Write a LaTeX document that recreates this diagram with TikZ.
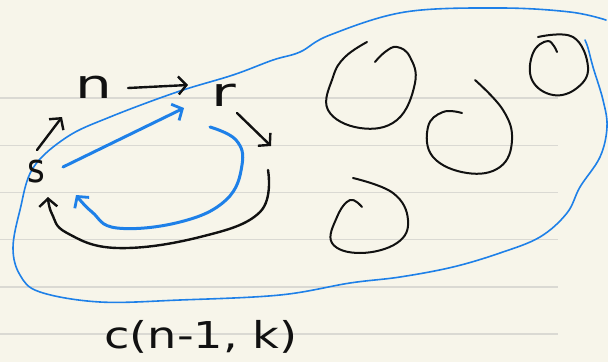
\documentclass[tikz,border=0pt]{standalone}
\usepackage{fontspec}
\setmainfont{DejaVu Sans}
\usetikzlibrary{arrows.meta}
\definecolor{paper}{HTML}{F7F5EA}
\definecolor{rulecol}{HTML}{DAD9D3}
\definecolor{ink}{HTML}{111111}
\definecolor{pen}{HTML}{1E80E8}
\tikzset{
  inkline/.style={draw=ink, line width=2.4pt, line cap=round, line join=round},
  thinink/.style={draw=ink, line width=2pt, line cap=round, line join=round},
  penline/.style={draw=pen, line width=1.6pt, line cap=round, line join=round},
  penarrow/.style={draw=pen, line width=3pt, line cap=round, line join=round},
  barb/.style={-{Straight Barb[length=8pt,width=18pt,line width=2.4pt]}},
  pbarb/.style={-{Straight Barb[length=8pt,width=18pt,line width=2.8pt]}},
  hand/.style={text=ink, inner sep=0pt, transform shape, font=\fontsize{40}{40}\selectfont},
}
\begin{document}
\begin{tikzpicture}[x=1pt,y=-1pt]
\fill[paper] (0,0) rectangle (608,362);
\useasboundingbox (0,0) rectangle (608,362);
% ruled lines
\foreach \yy in {98,145.5,192.5,239.5,287,334}
  \draw[rulecol, line width=1.3pt] (0,\yy) -- (558,\yy);

% blue outline
\draw[penline] plot[smooth, tension=0.6] coordinates {
  (606,20) (570,12) (500,8) (405,12) (330,35) (300,52) (273,60) (233,75)
  (177,92) (110,117) (67,137) (33,168) (20,210) (13,248) (20,275) (40,292)
  (100,302) (180,300) (280,295) (350,283) (400,277) (453,267) (500,253)
  (540,237) (567,213) (580,187) (600,157) (607,127) (603,100) (593,67) (588,48) (585,40)};

% letters
\node[hand, xscale=1.45] (n) at (94,87) {n};
\node[hand, xscale=1.5] (r) at (224,95) {r};
\node[hand, xscale=0.85] (s) at (36,172) {s};
\node[hand, xscale=1.25, anchor=west, font=\fontsize{37}{37}\selectfont] (lab) at (104,337) {c(n-1, k)};

% black arrows
\coordinate (na) at (128,88);
\coordinate (nb) at (188,85);
\draw[inkline, barb] (na) -- (nb);
\coordinate (sa) at (37,150);
\coordinate (sb) at (62,117);
\draw[inkline, barb] (sa) -- (sb);
\coordinate (ra) at (237,113);
\coordinate (rb) at (271,146);
\draw[inkline, barb] (ra) -- (rb);
\draw[inkline, barb] plot[smooth, tension=0.7] coordinates {
  (268,170) (260,212) (200,237) (117,248) (67,233) (52,214) (48,197)};

% blue arrows
\coordinate (sc) at (63,167);
\coordinate (rc) at (184,108);
\draw[penarrow, pbarb] (sc) -- (rc);
\draw[penarrow, pbarb] plot[smooth, tension=0.7] coordinates {
  (210,127) (236,140) (242,165) (226,200) (180,222) (117,228) (92,212) (76,195)};

% spirals
\draw[thinink] plot[smooth, tension=0.7] coordinates {
  (367,42) (345,57) (333,77) (328,110) (360,128) (397,120) (415,83) (410,57) (397,47) (385,52) (375,62)};
\draw[thinink] plot[smooth, tension=0.7] coordinates {
  (475,80) (503,110) (512,140) (500,167) (467,173) (433,157) (428,127) (443,112) (462,113)};
\draw[thinink] plot[smooth, tension=0.7] coordinates {
  (538,37) (573,37) (588,67) (577,88) (553,95) (532,80) (533,53) (548,41) (557,52)};
\draw[thinink] plot[smooth, tension=0.7] coordinates {
  (353,178) (393,193) (408,220) (397,243) (360,253) (332,243) (337,217) (350,200) (362,207)};
\end{tikzpicture}
\end{document}
